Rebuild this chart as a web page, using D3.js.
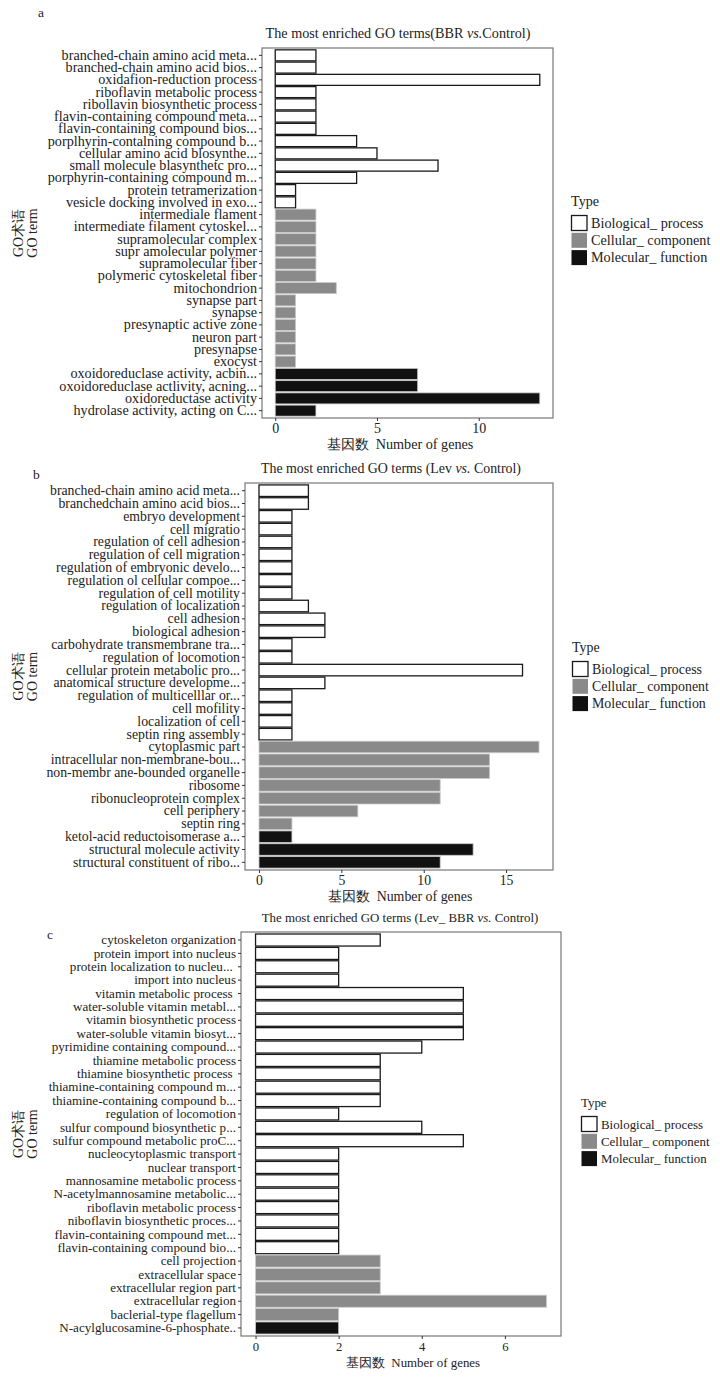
<!DOCTYPE html>
<html>
<head>
<meta charset="utf-8">
<script src="https://d3js.org/d3.v7.min.js"></script>
<style>
  body { margin: 0; background: #fff; }
  text { font-family: "Liberation Serif", "Times New Roman", serif; fill: #222; }
</style>
</head>
<body>
<svg id="chart" width="720" height="1377"></svg>
<script>
// ---- panel a : BBR vs. Control ----
var termsA = ["branched-chain amino acid meta...", "branched-chain amino acid bios...", "oxidafion-reduction process",
  "riboflavin metabolic process", "ribollavin biosynthetic process", "flavin-containing compound meta...",
  "flavin-containing compound bios...", "porplhyrin-contalning compound b...", "cellular amino acid blosynthe...",
  "small molecule blasynthetc pro...", "porphyrin-containing compound m...", "protein tetramerization",
  "vesicle docking involved in exo...", "intermediale flament", "intermediate filament cytoskel...",
  "supramolecular complex", "supr amolecular polymer", "supramolecular fiber", "polymeric cytoskeletal fiber",
  "mitochondrion", "synapse part", "synapse", "presynaptic active zone", "neuron part", "presynapse", "exocyst",
  "oxoidoreduclase activity, acbin...", "oxoidoreduclase actlivity, acning...", "oxidoreductase activity",
  "hydrolase activity, acting on C..."];
var countsA = [2, 2, 13, 2, 2, 2, 2, 4, 5, 8, 4, 1, 1, 2, 2, 2, 2, 2, 2, 3, 1, 1, 1, 1, 1, 1, 7, 7, 13, 2];
var typesA = ["BP","BP","BP","BP","BP","BP","BP","BP","BP","BP","BP","BP","BP",
  "CC","CC","CC","CC","CC","CC","CC","CC","CC","CC","CC","CC","CC",
  "MF","MF","MF","MF"];
var ticksA = [0, 5, 10];

// ---- panel b : Lev vs. Control ----
var termsB = ["branched-chain amino acid meta...", "branchedchain amino acid bios...", "embryo development",
  "cell migratio", "regulation of cell adhesion", "regulation of cell migration", "regulation of embryonic develo...",
  "regulation ol cellular compoe...", "regulation of cell motility", "regulation of localization", "cell adhesion",
  "biological adhesion", "carbohydrate transmembrane tra...", "regulation of locomotion",
  "cellular protein metabolic pro...", "anatomical structure developme...", "regulation of multicelllar or...",
  "cell mofility", "localization of cell", "septin ring assembly", "cytoplasmic part",
  "intracellular non-membrane-bou...", "non-membr ane-bounded organelle", "ribosome", "ribonucleoprotein complex",
  "cell periphery", "septin ring", "ketol-acid reductoisomerase a...", "structural molecule activity",
  "structural constituent of ribo..."];
var countsB = [3, 3, 2, 2, 2, 2, 2, 2, 2, 3, 4, 4, 2, 2, 16, 4, 2, 2, 2, 2, 17, 14, 14, 11, 11, 6, 2, 2, 13, 11];
var typesB = ["BP","BP","BP","BP","BP","BP","BP","BP","BP","BP","BP","BP","BP","BP","BP","BP","BP","BP","BP","BP",
  "CC","CC","CC","CC","CC","CC","CC",
  "MF","MF","MF"];
var ticksB = [0, 5, 10, 15];

// ---- panel c : Lev_ BBR vs. Control ----
var termsC = ["cytoskeleton organization", "protein import into nucleus", "protein localization to nucleu... ",
  "import into nucleus", "vitamin metabolic process ", "water-soluble vitamin metabl...", "vitamin biosynthetic process",
  "water-soluble vitamin biosyt...", "pyrimidine containing compound...", "thiamine metabolic process",
  "thiamine biosynthetic process ", "thiamine-containing compound m...", "thiamine-containing compound b...",
  "regulation of locomotion", "sulfur compound biosynthetic p...", "sulfur compound metabolic proC...",
  "nucleocytoplasmic transport", "nuclear transport", "mannosamine metabolic process",
  "N-acetylmannosamine metabolic...", "riboflavin metabolic process", "niboflavin biosynthetic proces...",
  "flavin-containing compound met...", "flavin-containing compound bio...", "cell projection",
  "extracellular space", "extracellular region part", "extracellular region", "baclerial-type flagellum",
  "N-acylglucosamine-6-phosphate.."];
var countsC = [3, 2, 2, 2, 5, 5, 5, 5, 4, 3, 3, 3, 3, 2, 4, 5, 2, 2, 2, 2, 2, 2, 2, 2, 3, 3, 3, 7, 2, 2];
var typesC = ["BP","BP","BP","BP","BP","BP","BP","BP","BP","BP","BP","BP","BP","BP","BP","BP","BP","BP","BP","BP","BP","BP","BP","BP",
  "CC","CC","CC","CC","CC",
  "MF"];
var ticksC = [0, 2, 4, 6];

var typeCodes = ["BP", "CC", "MF"];
var typeNames = ["Biological_ process", "Cellular_ component", "Molecular_ function"];

var fill = d3.scaleOrdinal().domain(typeCodes).range(["#ffffff", "#8a8a8a", "#111111"]);
var stroke = d3.scaleOrdinal().domain(typeCodes).range(["#1a1a1a", "#c8c8c8", "#c8c8c8"]);

var panels = [
  {tag: "a", terms: termsA, counts: countsA, types: typesA, ticks: ticksA,
   title: ["The most enriched GO terms(BBR ", "vs.", "Control)"],
   box: [262, 553, 48, 418], tagXY: [38, 17], titleX: 398, xTitleX: 400, fs: 14.2, fsT: 14.2, legend: [571, 206]},
  {tag: "b", terms: termsB, counts: countsB, types: typesB, ticks: ticksB,
   title: ["The most enriched GO terms (Lev ", "vs.", " Control)"],
   box: [245, 553, 483, 870], tagXY: [33, 479], titleX: 391, xTitleX: 400, fs: 13.8, fsT: 13.9, legend: [572, 652]},
  {tag: "c", terms: termsC, counts: countsC, types: typesC, ticks: ticksC,
   title: ["The most enriched GO terms (Lev_ BBR ", "vs.", " Control)"],
   box: [241, 561, 932, 1336], tagXY: [47, 939], titleX: 400, xTitleX: 413, fs: 13.1, fsT: 12.9, legend: [581, 1107]}
];

var svg = d3.select("#chart");

panels.forEach(function(p) {
  var x0 = p.box[0], x1 = p.box[1], y0 = p.box[2], y1 = p.box[3];
  var max = d3.max(p.counts);
  var g = svg.append("g");

  var x = d3.scaleLinear().domain([-0.05 * max, 1.05 * max]).range([x0, x1]);
  var y = d3.scaleBand().domain(d3.range(p.terms.length)).range([y0, y1])
    .paddingInner(0.1).paddingOuter(0.15);

  // bars
  g.selectAll("rect.bar").data(p.counts).enter().append("rect")
    .attr("class", "bar")
    .attr("x", x(0))
    .attr("y", function(d, i) { return y(i); })
    .attr("width", function(d) { return x(d) - x(0); })
    .attr("height", y.bandwidth())
    .attr("fill", function(d, i) { return fill(p.types[i]); })
    .attr("stroke", function(d, i) { return stroke(p.types[i]); })
    .attr("stroke-width", function(d, i) { return p.types[i] == "BP" ? 1.3 : 0.8; });

  // frame
  g.append("rect").attr("x", x0).attr("y", y0).attr("width", x1 - x0).attr("height", y1 - y0)
    .attr("fill", "none").attr("stroke", "#777").attr("stroke-width", 1.2);

  // y axis
  var ya = g.append("g").attr("transform", "translate(" + x0 + ",0)")
    .call(d3.axisLeft(y).tickSize(3).tickPadding(2).tickFormat(function(i) { return p.terms[i]; }));
  ya.select(".domain").remove();
  ya.selectAll("line").attr("stroke", "#333");
  ya.selectAll("text").style("font-size", p.fs + "px").attr("fill", "#1a1a1a")
    .style("font-family", "Liberation Serif").attr("xml:space", "preserve");

  // x axis
  var xa = g.append("g").attr("transform", "translate(0," + y1 + ")")
    .call(d3.axisBottom(x).tickValues(p.ticks).tickSize(3).tickPadding(2.5));
  xa.select(".domain").remove();
  xa.selectAll("line").attr("stroke", "#333");
  xa.selectAll("text").style("font-size", (p.fsT - 0.2) + "px").attr("fill", "#333").style("font-family", "Liberation Serif");

  // title
  var t = g.append("text").attr("x", p.titleX).attr("y", y0 - 10.5).attr("text-anchor", "middle")
    .style("font-size", p.fsT + "px");
  t.append("tspan").text(p.title[0]);
  t.append("tspan").style("font-style", "italic").text(p.title[1]);
  t.append("tspan").text(p.title[2]);

  // panel tag
  g.append("text").attr("x", p.tagXY[0]).attr("y", p.tagXY[1]).style("font-size", "13.5px").text(p.tag);

  // x title
  g.append("text").attr("x", p.xTitleX).attr("y", y1 + 31).attr("text-anchor", "middle")
    .style("font-size", p.fsT + "px").attr("fill", "#333").attr("xml:space", "preserve")
    .text("基因数  Number of genes");

  // y title (two lines)
  var cy = (y0 + y1) / 2;
  g.append("text").attr("transform", "translate(18," + cy + ") rotate(-90)")
    .attr("text-anchor", "middle").attr("dominant-baseline", "central")
    .style("font-size", "14px").attr("fill", "#333").text("GO术语");
  g.append("text").attr("transform", "translate(32," + cy + ") rotate(-90)")
    .attr("text-anchor", "middle").attr("dominant-baseline", "central")
    .style("font-size", "14px").attr("fill", "#333").text("GO term");

  // legend
  var lg = g.append("g").attr("transform", "translate(" + p.legend[0] + "," + p.legend[1] + ")");
  lg.append("text").attr("x", 0).attr("y", 0).style("font-size", p.fsT + "px").text("Type");
  var items = lg.selectAll("g.item").data(typeCodes).enter().append("g").attr("class", "item")
    .attr("transform", function(d, i) { return "translate(0," + (9 + i * 17.3) + ")"; });
  items.append("rect").attr("x", 0.5).attr("y", 0.5).attr("width", 15.5).attr("height", 15)
    .attr("fill", function(d) { return fill(d); })
    .attr("stroke", function(d) { return d == "BP" ? "#1a1a1a" : "none"; })
    .attr("stroke-width", 1.3);
  items.append("text").attr("x", 20).attr("y", 12.5).style("font-size", p.fsT + "px")
    .text(function(d, i) { return typeNames[i]; });
});
</script>
</body>
</html>
